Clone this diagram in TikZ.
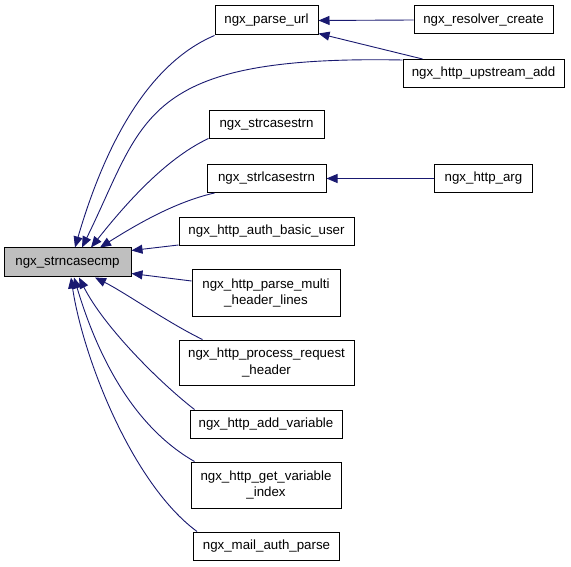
\documentclass[tikz,border=0pt]{standalone}
\usepackage{fontspec}
\setmainfont{Liberation Sans}
\usetikzlibrary{arrows.meta}
\definecolor{edge_blue}{RGB}{25,25,112}
\definecolor{focus_gray}{RGB}{191,191,191}
\tikzset{% 
	func_box/.style={draw=black,line width=1pt,fill=white,minimum height=28pt,inner sep=2pt,align=center,font=\fontsize{13.3}{16.7}\selectfont}
}
\tikzset{% 
	call_edge/.style={draw=edge_blue,line width=0.9pt,-{Triangle[length=11pt,width=9pt]}}
}

\begin{document}
\begin{tikzpicture}[x=1pt,y=-1pt]
		\useasboundingbox (0,0) rectangle (571,567);

		%Called function
		\node [func_box,fill=focus_gray,minimum width=127pt,minimum height=29pt] (strncasecmp) at (67.5,262.5) {ngx\_strncasecmp};

		%Callers
		\node [func_box,minimum width=103pt,minimum height=29pt] (parse_url) at (266.5,20.5) {ngx\_parse\_url};
		\node [func_box,minimum width=139pt] (resolver_create) at (483.5,20) {ngx\_resolver\_create};
		\node [func_box,minimum width=161pt] (upstream_add) at (483.5,73.5) {ngx\_http\_upstream\_add};
		\node [func_box,minimum width=115pt] (strcasestrn) at (266.5,125) {ngx\_strcasestrn};
		\node [func_box,minimum width=119pt] (strlcasestrn) at (266.5,178.5) {ngx\_strlcasestrn};
		\node [func_box,minimum width=98pt] (http_arg) at (483.5,178.5) {ngx\_http\_arg};
		\node [func_box,minimum width=175pt] (auth_basic_user) at (266.5,231.5) {ngx\_http\_auth\_basic\_user};
		\node [func_box,minimum width=148pt,minimum height=46pt] (parse_multi) at (266,293) {ngx\_http\_parse\_multi\\\_header\_lines};
		\node [func_box,minimum width=175pt,minimum height=45pt] (process_request) at (266.5,362.5) {ngx\_http\_process\_request\\\_header};
		\node [func_box,minimum width=152pt] (add_variable) at (266,424) {ngx\_http\_add\_variable};
		\node [func_box,minimum width=150pt,minimum height=46pt] (get_variable_index) at (266,485) {ngx\_http\_get\_variable\\\_index};
		\node [func_box,minimum width=146pt] (mail_auth_parse) at (266.5,546) {ngx\_mail\_auth\_parse};

		%Second level calls
		\draw [call_edge] (resolver_create.west) -- (parse_url.east);
		\draw [call_edge] ([xshift=20pt]upstream_add.north west) -- ([yshift=2pt]parse_url.south east);
		\draw [call_edge] (http_arg.west) -- (strlcasestrn.east);

		%Calls into ngx_strncasecmp, from above
		\draw [call_edge] (parse_url.south west) .. controls +(-73.6,31.2) and +(25.2,-86.4) .. ([xshift=7.5pt]strncasecmp.north);
		\draw [call_edge] ([yshift=-1pt]upstream_add.north west) .. controls +(-263,-5) and +(63,-128) .. ([xshift=14.5pt]strncasecmp.north);
		\draw [call_edge] ([yshift=1pt]strcasestrn.south west) .. controls +(-45,21) and +(31,-39) .. ([xshift=23.5pt]strncasecmp.north);
		\draw [call_edge] ([xshift=8pt]strlcasestrn.south west) .. controls +(-40,9) and +(35,-22) .. ([xshift=32.5pt]strncasecmp.north);

		%Calls into ngx_strncasecmp, from the side
		\draw [call_edge] ([yshift=1pt]auth_basic_user.south west) -- ([yshift=-3pt]strncasecmp.north east);
		\draw [call_edge] ([yshift=12pt]parse_multi.west) -- ([yshift=4pt]strncasecmp.south east);

		%Calls into ngx_strncasecmp, from below
		\draw [call_edge] ([xshift=24pt]process_request.north west) .. controls +(-35,-17) and +(30,15) .. ([xshift=27.5pt]strncasecmp.south);
		\draw [call_edge] ([xshift=5pt]add_variable.north west) .. controls +(-35.5,-27.5) and +(24.75,49) .. ([xshift=11.5pt]strncasecmp.south);
		\draw [call_edge] ([xshift=4pt]get_variable_index.north west) .. controls +(-70,-40) and +(18,60) .. ([xshift=6.5pt]strncasecmp.south);
		\draw [call_edge] ([xshift=4pt]mail_auth_parse.north west) .. controls +(-65,-48) and +(12,80) .. ([xshift=3.5pt]strncasecmp.south);

	\end{tikzpicture}
\end{document}
